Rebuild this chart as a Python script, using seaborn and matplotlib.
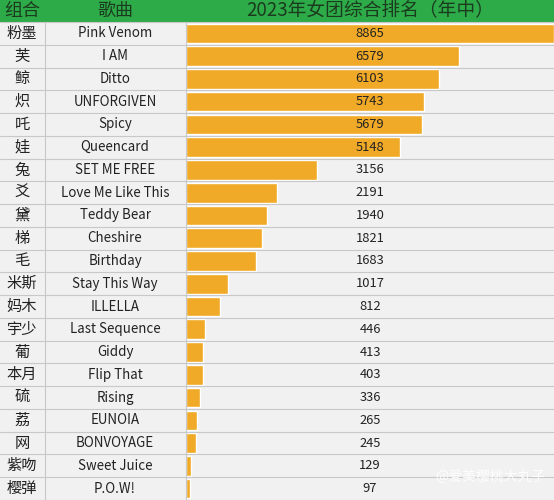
import matplotlib
matplotlib.use('Agg')
import matplotlib.pyplot as plt
import seaborn as sns
import pandas as pd
from matplotlib.patches import Rectangle

# 数据
groups = ['粉墨', '芙', '鲸', '炽', '吒', '娃', '兔', '爻', '黛', '梯', '毛',
          '米斯', '妈木', '宇少', '葡', '本月', '硫', '荔', '网', '紫吻', '樱弹']
songs = ['Pink Venom', 'I AM', 'Ditto', 'UNFORGIVEN', 'Spicy', 'Queencard',
         'SET ME FREE', 'Love Me Like This', 'Teddy Bear', 'Cheshire', 'Birthday',
         'Stay This Way', 'ILLELLA', 'Last Sequence', 'Giddy', 'Flip That',
         'Rising', 'EUNOIA', 'BONVOYAGE', 'Sweet Juice', 'P.O.W!']
scores = [8865, 6579, 6103, 5743, 5679, 5148, 3156, 2191, 1940, 1821, 1683,
          1017, 812, 446, 413, 403, 336, 265, 245, 129, 97]
title = '2023年女团综合排名（年中）'

df = pd.DataFrame({'歌曲': songs, '分数': scores})

sns.set_style('white')
plt.rcParams['font.family'] = ['Noto Sans CJK SC', 'DejaVu Sans']

W, H = 554, 500
fig = plt.figure(figsize=(W / 100, H / 100), dpi=100)
fig.patch.set_facecolor('#f2f1f1')

top = 22      # 表头高度(px)
bar_x0 = 186  # 柱状区起点(px)
n = len(songs)
row_h = (H - top) / n

# 表头
fig.patches.append(Rectangle((0, 1 - top / H), 1, top / H, transform=fig.transFigure,
                             facecolor='#2eab49', edgecolor='none', zorder=0))
hc = '#1b3b1e'
fig.text(22 / W, 1 - top / 2 / H, '组合', ha='center', va='center', fontsize=13, color=hc)
fig.text(115 / W, 1 - top / 2 / H, '歌曲', ha='center', va='center', fontsize=13, color=hc)
fig.text(370 / W, 1 - top / 2 / H, title, ha='center', va='center', fontsize=13.5, color=hc)

# 行分隔线和竖线
for i in range(n + 1):
    y = 1 - (top + i * row_h) / H
    fig.add_artist(plt.Line2D([0, 1], [y, y], transform=fig.transFigure,
                              color='#c8c8c8', lw=0.8, zorder=1))
for xv in [45, bar_x0]:
    fig.add_artist(plt.Line2D([xv / W, xv / W], [0, 1 - top / H], transform=fig.transFigure,
                              color='#c8c8c8', lw=0.8, zorder=1))

# 左边两列文字
for i in range(n):
    y = 1 - (top + (i + 0.5) * row_h) / H
    fig.text(22 / W, y, groups[i], ha='center', va='center', fontsize=11, color='#222222')
    fig.text(115 / W, y, songs[i], ha='center', va='center', fontsize=9.6, color='#222222')

# 柱状图
ax = fig.add_axes([bar_x0 / W, 0, (W - bar_x0) / W, (H - top) / H])
ax.set_facecolor('none')
sns.barplot(data=df, x='分数', y='歌曲', color='#f1aa27', saturation=1, width=0.86, ax=ax)
ax.set_xlim(0, max(scores))
ax.set_ylim(n - 0.5, -0.5)
ax.axis('off')
for i, v in enumerate(scores):
    ax.text(max(scores) / 2, i, str(v), ha='center', va='center', fontsize=9.3, color='#222222')

# 水印
fig.text(545 / W, 1 - 477 / H, '@爱美樱桃大丸子', ha='right', va='center', fontsize=10,
         color='#ffffff', alpha=0.9)

fig.savefig('out.png', dpi=100)
